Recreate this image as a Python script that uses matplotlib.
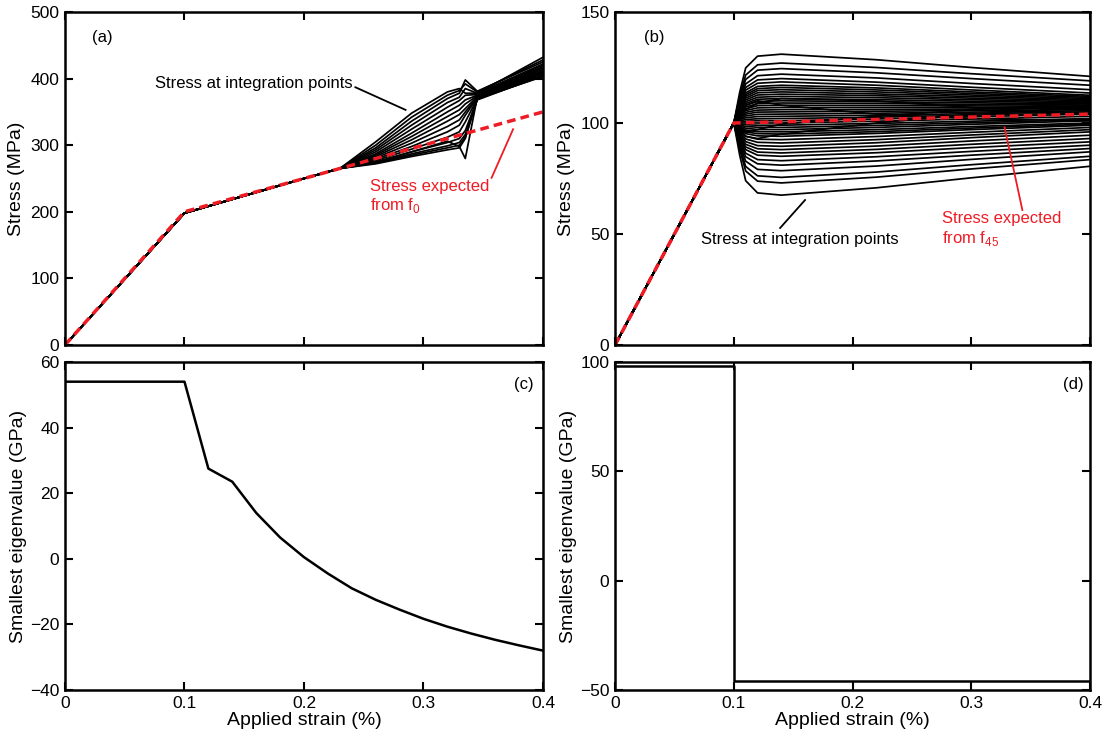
import numpy as np
import matplotlib
matplotlib.use('Agg')
import matplotlib.pyplot as plt

plt.rcParams['font.family'] = ['Liberation Sans', 'DejaVu Sans']
plt.rcParams['mathtext.fontset'] = 'custom'
plt.rcParams['mathtext.rm'] = 'Liberation Sans'

# ---- panel (a): stress at integration points, f0 ----
a_strain_common = [0, 0.1, 0.2, 0.23]
a_stress_common = [0, 198, 250, 265]
a_strain_tail = [0.26, 0.29, 0.32, 0.33, 0.335, 0.345, 0.4]
a_curves = [
    [305, 348, 380, 385, 378, 378, 432],
    [300, 342, 375, 382, 392, 380, 428],
    [296, 336, 370, 378, 398, 381, 425],
    [293, 330, 364, 372, 385, 378, 422],
    [290, 324, 357, 367, 375, 376, 420],
    [287, 318, 350, 360, 368, 375, 418],
    [285, 313, 343, 353, 362, 374, 416],
    [283, 308, 336, 346, 355, 373, 414],
    [281, 303, 328, 338, 350, 372, 412],
    [279, 298, 320, 330, 345, 371, 410],
    [277, 294, 312, 320, 335, 370, 408],
    [275, 290, 304, 310, 322, 369, 406],
    [274, 287, 299, 304, 316, 368, 405],
    [273, 285, 296, 300, 312, 369, 404],
    [272, 283, 293, 296, 310, 370, 403],
    [274, 290, 306, 298, 280, 372, 410],
]
a_expected_strain = [0, 0.1, 0.4]
a_expected_stress = [0, 200, 350]

# ---- panel (b): stress at integration points, f45 ----
b_strain_common = [0, 0.1]
b_stress_common = [0, 100]
b_strain_tail = [0.105, 0.11, 0.12, 0.14, 0.22, 0.3, 0.4]
b_curves = [
    [113.9, 124.8, 130.1, 131, 128.5, 125, 121],
    [112.2, 121.6, 126.2, 127, 125, 122.2, 119],
    [111, 119.6, 123.8, 124.5, 122.6, 120, 117],
    [109.9, 117.6, 121.3, 122, 120.3, 117.8, 115],
    [109, 116, 119.4, 120, 118.4, 116.1, 113.5],
    [108.3, 114.8, 117.9, 118.5, 117, 114.9, 112.5],
    [107.7, 113.6, 116.5, 117, 115.8, 114, 112],
    [107.2, 112.8, 115.5, 116, 114.9, 113.3, 111.5],
    [106.8, 112, 114.6, 115, 114, 112.6, 111],
    [106.3, 111.2, 113.6, 114, 113.1, 111.9, 110.5],
    [105.9, 110.4, 112.6, 113, 112.3, 111.2, 110],
    [105.4, 109.6, 111.6, 112, 111.4, 110.5, 109.5],
    [105, 108.8, 110.7, 111, 110.5, 109.8, 109],
    [104.5, 108, 109.7, 110, 109.6, 109.1, 108.5],
    [104.1, 107.2, 108.7, 109, 108.8, 108.4, 108],
    [103.6, 106.4, 107.8, 108, 107.9, 107.7, 107.5],
    [103.2, 105.6, 106.8, 107, 107, 107, 107],
    [102.7, 104.8, 105.8, 106, 106.1, 106.3, 106.5],
    [102.3, 104, 104.9, 105, 105.3, 105.6, 106],
    [101.8, 103.2, 103.9, 104, 104.4, 104.9, 105.5],
    [101.4, 102.4, 102.9, 103, 103.5, 104.2, 105],
    [100.9, 101.6, 101.9, 102, 102.6, 103.5, 104.5],
    [100.5, 100.8, 101, 101, 101.8, 102.8, 104],
    [100, 100, 100, 100, 100.8, 101.8, 103],
    [99.6, 99.2, 99, 99, 99.8, 100.8, 102],
    [99.1, 98.4, 98.1, 98, 98.9, 100.1, 101.5],
    [98.7, 97.6, 97.1, 97, 98, 99.4, 101],
    [98.2, 96.8, 96.1, 96, 97, 98.4, 100],
    [97.8, 96, 95.2, 95, 96.1, 97.7, 99.5],
    [97.3, 95.2, 94.2, 94, 95.3, 97, 99],
    [96.6, 94, 92.7, 92.5, 93.9, 95.8, 98],
    [96, 92.8, 91.3, 91, 92.5, 94.6, 97],
    [95.3, 91.6, 89.8, 89.5, 91.1, 93.4, 96],
    [94.6, 90.4, 88.4, 88, 89.6, 91.9, 94.5],
    [93.9, 89.2, 86.9, 86.5, 88.1, 90.4, 93],
    [93.3, 88, 85.5, 85, 86.6, 88.9, 91.5],
    [92.4, 86.4, 83.5, 83, 84.8, 87.2, 90],
    [91.5, 84.8, 81.6, 81, 82.9, 85.5, 88.5],
    [90.3, 82.8, 79.1, 78.5, 80.6, 83.6, 87],
    [89, 80.4, 76.2, 75.5, 77.9, 81.2, 85],
    [87.9, 78.4, 73.8, 73, 75.6, 79.3, 83.5],
    [85.4, 74, 68.5, 67.5, 70.8, 75.3, 80.5],
    [104, 108, 110, 108, 104, 102, 101],
    [97, 94, 93, 95, 100, 104, 107],
    [103, 106, 109, 111, 110, 107, 104],
    [98, 96, 97, 99.5, 103, 106, 109],
]
b_expected_strain = [0, 0.1, 0.4]
b_expected_stress = [0, 100, 104]

# ---- panel (c): smallest eigenvalue ----
c_strain = [0, 0.1, 0.12, 0.14, 0.16, 0.18, 0.2, 0.22, 0.24, 0.26, 0.28,
            0.3, 0.32, 0.34, 0.36, 0.38, 0.4]
c_eig = [54, 54, 27.5, 23.5, 14, 6.5, 0.5, -4.5, -9, -12.5, -15.5,
         -18.3, -20.7, -22.8, -24.7, -26.4, -28]

# ---- panel (d): smallest eigenvalue ----
d_strain = [0, 0.1, 0.1, 0.4]
d_eig = [98, 98, -46, -46]

x_ticks = [0, 0.1, 0.2, 0.3, 0.4]
x_ticklabels = ['0', '0.1', '0.2', '0.3', '0.4']

fig = plt.figure(figsize=(11.07, 7.4), dpi=100)
ax_a = fig.add_axes([0.0587, 0.5338, 0.4318, 0.45])
ax_b = fig.add_axes([0.5556, 0.5338, 0.4291, 0.45])
ax_c = fig.add_axes([0.0587, 0.0676, 0.4318, 0.4432])
ax_d = fig.add_axes([0.5556, 0.0676, 0.4291, 0.4432])


def style(ax, labels):
    for s in ax.spines.values():
        s.set_linewidth(1.8)
    ax.tick_params(direction='in', top=True, right=True, length=6, width=1.5,
                   labelsize=12.5, pad=4)
    ax.set_xlim(0, 0.4)
    ax.set_xticks(x_ticks)
    if labels:
        ax.set_xticklabels(x_ticklabels)
        ax.set_xlabel('Applied strain (%)', fontsize=14, labelpad=1)
    else:
        ax.set_xticklabels([])


red = '#ee1c25'

# (a)
for row in a_curves:
    ax_a.plot(a_strain_common + a_strain_tail, a_stress_common + row, color='k', lw=1.25)
ax_a.plot(a_expected_strain, a_expected_stress, color=red, lw=2.5, ls=(0, (2.5, 1.5)))
ax_a.set_ylim(0, 500)
ax_a.set_yticks([0, 100, 200, 300, 400, 500])
ax_a.set_ylabel('Stress (MPa)', fontsize=14, labelpad=4)
style(ax_a, False)
ax_a.text(0.023, 455, '(a)', fontsize=12)
ax_a.text(0.075, 393, 'Stress at integration points', fontsize=12, va='center')
ax_a.plot([0.243, 0.285], [387, 353], color='k', lw=1.3)
ax_a.text(0.255, 222, 'Stress expected\nfrom f$_0$', color=red, fontsize=12,
          va='center', linespacing=1.15)
ax_a.plot([0.357, 0.375], [251, 324], color=red, lw=1.3)

# (b)
for row in b_curves:
    ax_b.plot(b_strain_common + b_strain_tail, b_stress_common + row, color='k', lw=1.25)
ax_b.plot(b_expected_strain, b_expected_stress, color=red, lw=2.5, ls=(0, (2.5, 1.5)))
ax_b.set_ylim(0, 150)
ax_b.set_yticks([0, 50, 100, 150])
ax_b.set_ylabel('Stress (MPa)', fontsize=14, labelpad=4)
style(ax_b, False)
ax_b.text(0.024, 136.5, '(b)', fontsize=12)
ax_b.text(0.072, 47.3, 'Stress at integration points', fontsize=12, va='center')
ax_b.plot([0.139, 0.16], [52.7, 65.3], color='k', lw=1.3)
ax_b.text(0.275, 52, 'Stress expected\nfrom f$_{45}$', color=red, fontsize=12,
          va='center', linespacing=1.15)
ax_b.plot([0.343, 0.328], [60.8, 98], color=red, lw=1.3)

# (c)
ax_c.plot(c_strain, c_eig, color='k', lw=1.8)
ax_c.set_ylim(-40, 60)
ax_c.set_yticks([-40, -20, 0, 20, 40, 60])
ax_c.set_ylabel('Smallest eigenvalue (GPa)', fontsize=14, labelpad=2)
style(ax_c, True)
ax_c.text(0.376, 53, '(c)', fontsize=12, va='center')

# (d)
ax_d.plot(d_strain, d_eig, color='k', lw=1.8)
ax_d.set_ylim(-50, 100)
ax_d.set_yticks([-50, 0, 50, 100])
ax_d.set_ylabel('Smallest eigenvalue (GPa)', fontsize=14, labelpad=2)
style(ax_d, True)
ax_d.text(0.377, 89.5, '(d)', fontsize=12, va='center')

fig.savefig('out.png', dpi=100)
